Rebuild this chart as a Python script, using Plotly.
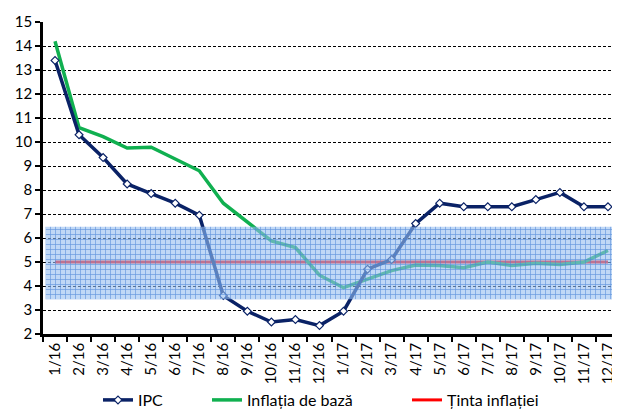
import plotly.graph_objects as go

labels = ["1/16","2/16","3/16","4/16","5/16","6/16","7/16","8/16","9/16","10/16","11/16","12/16",
          "1/17","2/17","3/17","4/17","5/17","6/17","7/17","8/17","9/17","10/17","11/17","12/17"]
ipc = [13.4, 10.3, 9.35, 8.25, 7.85, 7.45, 6.95, 3.6, 2.95, 2.5, 2.6, 2.35,
       2.95, 4.7, 5.1, 6.6, 7.45, 7.3, 7.3, 7.3, 7.6, 7.9, 7.3, 7.3]
core = [14.2, 10.6, 10.22, 9.75, 9.78, 9.3, 8.8, 7.45, 6.65, 5.88, 5.6, 4.45,
        3.93, 4.3, 4.64, 4.87, 4.85, 4.76, 5.0, 4.85, 4.95, 4.9, 5.0, 5.48]
target = [5.0] * 24
band_low, band_high = 3.45, 6.47
band_x = [-0.39, 23.5]

W, H = 612, 402

x = list(range(len(labels)))
fig = go.Figure()
fig.add_trace(go.Scatter(x=x, y=target, mode="lines", name="Ținta inflației",
                         legend="legend3",
                         line=dict(color="#ff0000", width=3)))
fig.add_trace(go.Scatter(x=x, y=core, mode="lines", name="Inflația de bază",
                         legend="legend2",
                         line=dict(color="#10b050", width=3.5)))
fig.add_trace(go.Scatter(x=x, y=ipc, mode="lines+markers", name="IPC",
                         legend="legend",
                         line=dict(color="#0a2266", width=3.5),
                         marker=dict(symbol="diamond", size=6, color="white",
                                     line=dict(color="#0a2266", width=1.2))))
fig.add_trace(go.Scatter(x=[band_x[0], band_x[1], band_x[1], band_x[0], band_x[0]],
                         y=[band_low, band_low, band_high, band_high, band_low],
                         mode="lines", fill="toself", line=dict(width=0),
                         fillcolor="rgba(150,190,240,0.6)",
                         fillpattern=dict(shape="+", size=5, solidity=0.25,
                                          fgcolor="rgb(70,130,215)", fgopacity=0.75,
                                          fillmode="overlay"),
                         showlegend=False, hoverinfo="skip"))

leg_common = dict(orientation="h", xref="container", yref="container",
                  xanchor="left", yanchor="middle", y=10 / H,
                  font=dict(family="Lato", size=16, color="black"),
                  itemwidth=30, bgcolor="rgba(0,0,0,0)")
fig.update_layout(
    width=W, height=H,
    margin=dict(l=35, r=0, t=14, b=76, autoexpand=False),
    paper_bgcolor="white", plot_bgcolor="white",
    font=dict(family="Lato", size=15, color="black"),
    showlegend=True,
    legend=dict(x=90 / W, **leg_common),
    legend2=dict(x=199 / W, **leg_common),
    legend3=dict(x=399 / W, **leg_common),
)
fig.update_xaxes(range=[-0.5, 23.5], tickmode="array", tickvals=x, ticktext=labels,
                 tickangle=-90, ticks="", showgrid=False, zeroline=False, automargin=False,
                 showline=True, linecolor="black", linewidth=2.5,
                 minor=dict(ticks="outside", tick0=-0.5, dtick=1, ticklen=5,
                            tickwidth=2, tickcolor="black", showgrid=False))
fig.update_yaxes(range=[2, 15], tickmode="linear", tick0=2, dtick=1, automargin=False,
                 ticks="outside", ticklen=5, tickwidth=2, tickcolor="black",
                 showline=True, linecolor="black", linewidth=2.5, zeroline=False,
                 showgrid=True, gridcolor="black", gridwidth=1, griddash="3px,2px")

fig.write_html("out.html")
